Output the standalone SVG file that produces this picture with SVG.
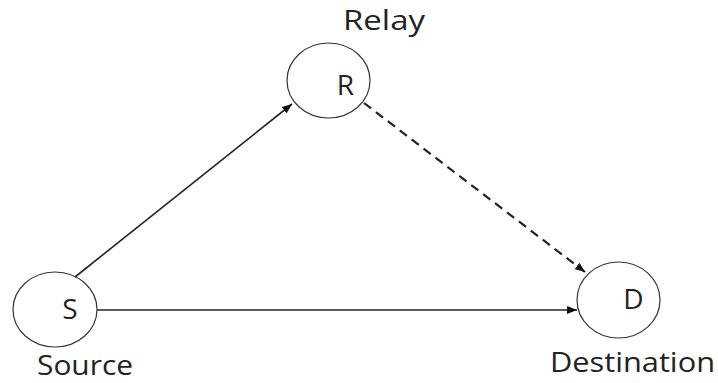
<svg xmlns="http://www.w3.org/2000/svg" width="718" height="383" viewBox="0 0 718 383">
<style>
.node{fill:none;stroke:#333;stroke-width:1.2}
.t{font-family:"Open Sans","Liberation Sans",sans-serif;font-size:28px;fill:#222}
.e{stroke:#222;stroke-width:1.6;fill:none}
.d{stroke-dasharray:9 6;stroke-width:2.2}
</style>
<defs>
<marker id="ah" viewBox="0 0 10 8" refX="10" refY="4" markerWidth="10" markerHeight="8" markerUnits="userSpaceOnUse" orient="auto">
<path d="M0,0L10,4L0,8z" fill="#111"/>
</marker>
</defs>
<rect width="718" height="383" fill="#fff"/>
<g id="connectors">
<line class="e" x1="75" y1="277" x2="292" y2="104" marker-end="url(#ah)"/>
<line class="e" x1="97" y1="310" x2="577" y2="310" marker-end="url(#ah)"/>
<line class="e d" x1="364" y1="103" x2="585" y2="272" marker-end="url(#ah)"/>
</g>
<g id="node-R">
<ellipse class="node" cx="328.5" cy="80.5" rx="41.5" ry="37.5"/>
<text class="t" x="345.5" y="95" text-anchor="middle">R</text>
<text class="t" x="343" y="30" textLength="82" lengthAdjust="spacingAndGlyphs">Relay</text>
</g>
<g id="node-S">
<ellipse class="node" cx="55" cy="309.5" rx="42" ry="37.5"/>
<text class="t" x="70" y="319" text-anchor="middle">S</text>
<text class="t" x="37" y="375" font-size="27" textLength="96" lengthAdjust="spacingAndGlyphs">Source</text>
</g>
<g id="node-D">
<ellipse class="node" cx="618.5" cy="300" rx="41.5" ry="38"/>
<text class="t" x="633.5" y="309" text-anchor="middle">D</text>
<text class="t" x="550" y="372" textLength="165" lengthAdjust="spacingAndGlyphs">Destination</text>
</g>
</svg>
